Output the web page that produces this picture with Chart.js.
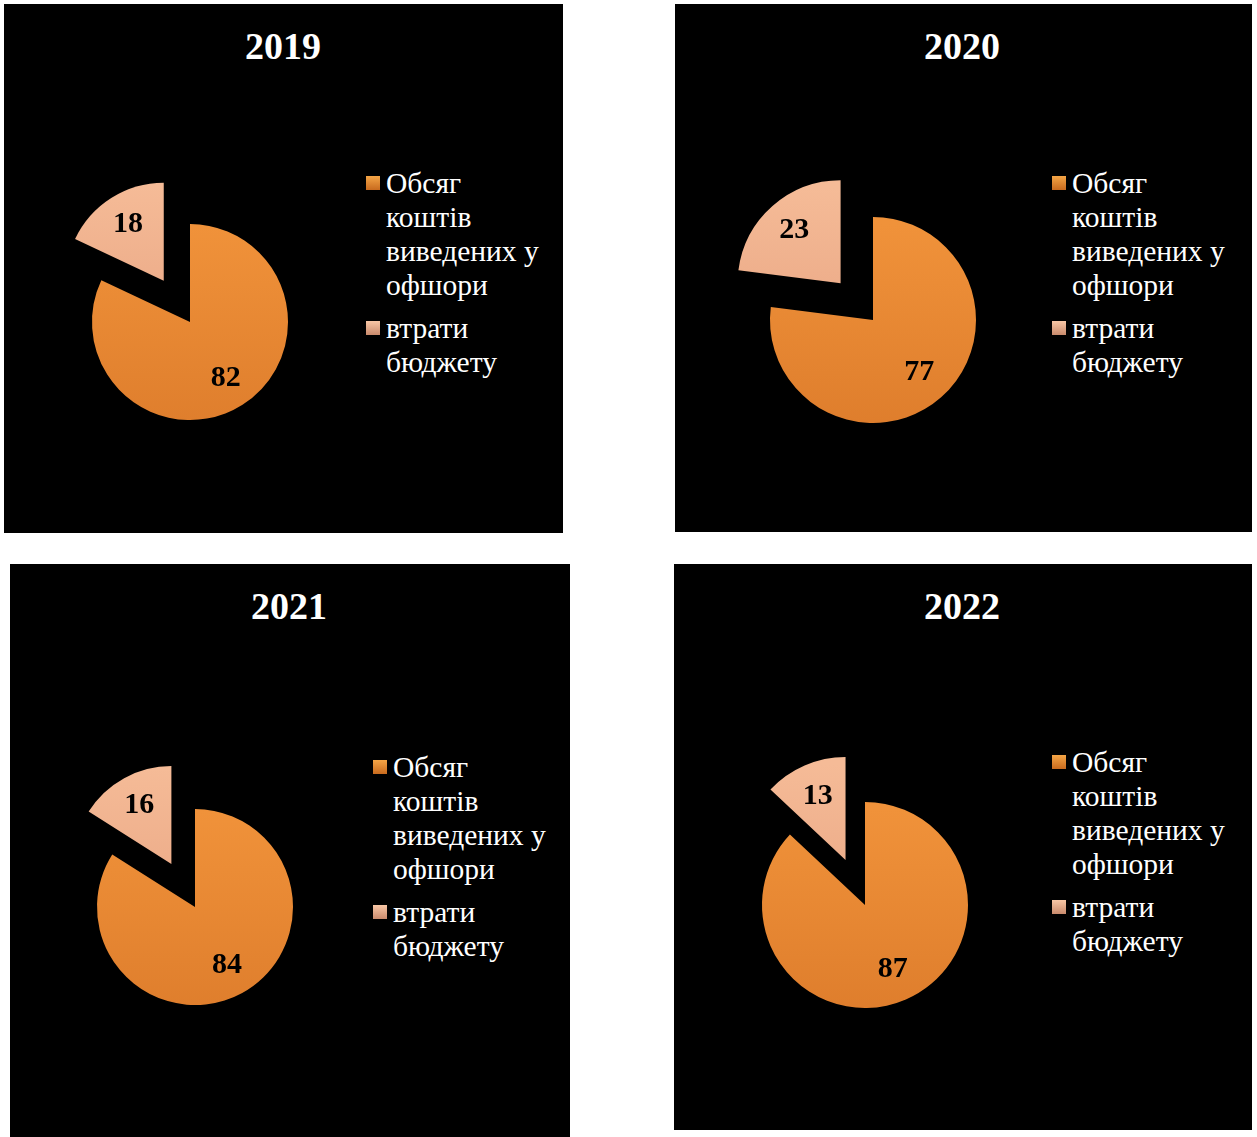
<!DOCTYPE html>
<html>
<head>
<meta charset="utf-8">
<script src="https://cdn.jsdelivr.net/npm/chart.js@4"></script>
<style>
  body { margin: 0; background: #fff; width: 1257px; height: 1137px; position: relative; overflow: hidden; }
  .panel { position: absolute; background: #000; }
  .title { position: absolute; color: #fff; font: bold 38px "Liberation Serif", serif; text-align: center; width: 200px; line-height: 40px; }
  .pie { position: absolute; }
  .legend { position: absolute; color: #fff; font: 29.5px "Liberation Serif", serif; line-height: 34px; width: 200px; }
  .item { position: relative; padding-left: 20px; width: 158px; margin-bottom: 9px; }
  .box { position: absolute; left: 0; top: 10px; width: 14px; height: 14px; }
</style>
</head>
<body>
<script>
// data
const years = ['2019', '2020', '2021', '2022'];
const categories = ['Обсяг коштів виведених у офшори', 'втрати бюджету'];
const offshoreVals = [82, 77, 84, 87];
const budgetLossVals = [18, 23, 16, 13];

// layout of the four black panels
const panels = [
  { x: 4, y: 4, w: 559, h: 529, tx: 283, ty: 26, cx: 190, cy: 322, r: 98, lx: 366, ly: 166 },
  { x: 675, y: 4, w: 577, h: 528, tx: 962, ty: 26, cx: 873, cy: 320, r: 103, lx: 1052, ly: 166 },
  { x: 10, y: 564, w: 560, h: 573, tx: 289, ty: 586, cx: 195, cy: 907, r: 98, lx: 373, ly: 750 },
  { x: 674, y: 564, w: 578, h: 566, tx: 962, ty: 586, cx: 865, cy: 905, r: 103, lx: 1052, ly: 745 }
];

const boxColors = [
  'linear-gradient(#f4a546, #c86a1e)',
  'linear-gradient(#f8c7a6, #c98a6c)'
];

// pulls the second slice out of the pie (chart.js offset also grows the radius)
const explodePlugin = {
  id: 'explode',
  afterUpdate(chart, args, opts) {
    const meta = chart.getDatasetMeta(0);
    const arc = meta.data[opts.index];
    if (!arc || arc._exploded) return;
    const orig = arc.draw;
    arc.draw = function (ctx, area) {
      const mid = (this.startAngle + this.endAngle) / 2;
      ctx.save();
      ctx.translate(Math.cos(mid) * opts.distance, Math.sin(mid) * opts.distance);
      orig.call(this, ctx, area);
      ctx.restore();
    };
    arc._exploded = true;
  },
  afterDatasetsDraw(chart, args, opts) {
    const ctx = chart.ctx;
    const meta = chart.getDatasetMeta(0);
    ctx.save();
    ctx.font = 'bold 30px "Liberation Serif", serif';
    ctx.fillStyle = '#000';
    ctx.textAlign = 'center';
    ctx.textBaseline = 'middle';
    meta.data.forEach((arc, i) => {
      const p = arc.getProps(['x', 'y', 'startAngle', 'endAngle', 'outerRadius']);
      const mid = (p.startAngle + p.endAngle) / 2;
      const d = p.outerRadius * 0.68 + (i === opts.index ? opts.distance : 0);
      ctx.fillText(String(chart.data.datasets[0].data[i]), p.x + Math.cos(mid) * d, p.y + Math.sin(mid) * d);
    });
    ctx.restore();
  }
};

function makeGradient(chart, top, bottom) {
  const area = chart.chartArea;
  if (!area) return top;
  const g = chart.ctx.createLinearGradient(0, area.top, 0, area.bottom);
  g.addColorStop(0.2, top);
  g.addColorStop(0.85, bottom);
  return g;
}

years.forEach((year, i) => {
  const p = panels[i];
  const panel = document.createElement('div');
  panel.className = 'panel';
  Object.assign(panel.style, { left: p.x + 'px', top: p.y + 'px', width: p.w + 'px', height: p.h + 'px' });
  document.body.appendChild(panel);

  const title = document.createElement('div');
  title.className = 'title';
  title.textContent = year;
  Object.assign(title.style, { left: (p.tx - 100) + 'px', top: p.ty + 'px' });
  document.body.appendChild(title);

  const size = 320;
  const canvas = document.createElement('canvas');
  canvas.className = 'pie';
  canvas.width = size;
  canvas.height = size;
  Object.assign(canvas.style, { left: (p.cx - size / 2) + 'px', top: (p.cy - size / 2) + 'px', width: size + 'px', height: size + 'px' });
  document.body.appendChild(canvas);

  new Chart(canvas, {
    type: 'pie',
    data: {
      labels: categories,
      datasets: [{
        data: [offshoreVals[i], budgetLossVals[i]],
        backgroundColor: (c) => c.dataIndex === 0
          ? makeGradient(c.chart, '#f0923a', '#de7d2c')
          : makeGradient(c.chart, '#f5bb97', '#e6a07e'),
        borderWidth: 0
      }]
    },
    options: {
      responsive: false,
      animation: false,
      radius: p.r,
      plugins: {
        legend: { display: false },
        tooltip: { enabled: false },
        explode: { index: 1, distance: 49 }
      }
    },
    plugins: [explodePlugin]
  });

  const legend = document.createElement('div');
  legend.className = 'legend';
  Object.assign(legend.style, { left: p.lx + 'px', top: p.ly + 'px' });
  categories.forEach((cat, k) => {
    const item = document.createElement('div');
    item.className = 'item';
    const box = document.createElement('span');
    box.className = 'box';
    box.style.background = boxColors[k];
    item.appendChild(box);
    item.appendChild(document.createTextNode(cat));
    legend.appendChild(item);
  });
  document.body.appendChild(legend);
});
</script>
</body>
</html>
